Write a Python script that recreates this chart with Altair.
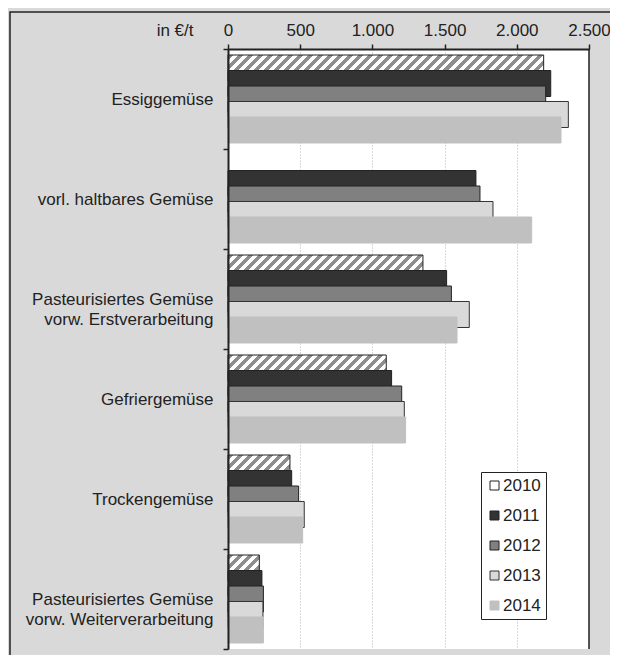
import altair as alt
import pandas as pd

categories = [
    "Essiggemüse",
    "vorl. haltbares Gemüse",
    "Pasteurisiertes Gemüse|vorw. Erstverarbeitung",
    "Gefriergemüse",
    "Trockengemüse",
    "Pasteurisiertes Gemüse|vorw. Weiterverarbeitung",
]
years = ["2010", "2011", "2012", "2013", "2014"]
v2010 = [2186, None, 1350, 1096, 429, 217]
v2011 = [2235, 1717, 1514, 1133, 441, 235]
v2012 = [2200, 1745, 1547, 1203, 489, 245]
v2013 = [2357, 1835, 1671, 1221, 528, 242]
v2014 = [2306, 2103, 1586, 1230, 517, 245]
x_ticks = [0, 500, 1000, 1500, 2000, 2500]

series = {"2010": v2010, "2011": v2011, "2012": v2012, "2013": v2013, "2014": v2014}
rows = []
for c_i, cat in enumerate(categories):
    for y in years:
        v = series[y][c_i]
        if v is not None:
            rows.append({"cat": cat, "year": y, "value": v})
df = pd.DataFrame(rows)

W_PLOT = 361
H_PLOT = 600
BAR = 26
DARK = "#222222"

fills = ["#ffffff", "#333333", "#808080", "#d9d9d9", "#c0c0c0"]
strokes = [DARK, DARK, DARK, "#333333", "#c0c0c0"]

legend = alt.Legend(
    orient="none", legendX=253, legendY=423, title=None,
    symbolType="square", symbolSize=81, symbolStrokeWidth=1,
    labelFontSize=17, labelColor=DARK, labelOffset=0,
    fillColor="white", strokeColor=DARK, padding=5, rowPadding=12,
)

x_enc = alt.X(
    "value:Q", stack=None,
    scale=alt.Scale(domain=[0, x_ticks[-1]], nice=False),
    axis=alt.Axis(
        orient="top", values=x_ticks,
        labelExpr="replace(format(datum.value, ','), ',', '.')",
        labelFontSize=17, labelColor=DARK, labelPadding=5, labelFlush=False,
        tickSize=5, tickColor=DARK, tickWidth=1.5,
        domainColor=DARK, domainWidth=2,
        grid=True, gridColor="#b4b4b4", gridDash=[1, 2], gridWidth=1,
        title="in €/t", titleX=-35, titleY=-14, titleAlign="right",
        titleBaseline="alphabetic", titleFontSize=17, titleFontWeight="normal",
        titleColor=DARK, zindex=0,
    ),
)
y_enc = alt.Y(
    "cat:N", sort=categories,
    scale=alt.Scale(domain=categories, paddingInner=0, paddingOuter=0),
    axis=alt.Axis(
        title=None, labelExpr="split(datum.label, '|')",
        labelFontSize=17, labelLineHeight=20, labelColor=DARK, labelPadding=10,
        labelLimit=300, tickBand="extent", tickSize=5, tickColor=DARK,
        tickWidth=1.5, domainColor=DARK, domainWidth=2, grid=False, zindex=1,
    ),
)
yoff_enc = alt.YOffset(
    "year:N", sort=years,
    scale=alt.Scale(domain=years, paddingInner=0, paddingOuter=0.726),
)


def hatch(value, period=10.0):
    w = value * W_PLOT / x_ticks[-1]
    h = float(BAR)
    denom = w * w + h * h
    stops = []
    c = 0.0
    total = w + h
    while c < total:
        for a, b, col in [(c, c + period / 2, "#8e8e8e"), (c + period / 2, c + period, "#ffffff")]:
            o1 = min(a * h / denom, 1.0)
            o2 = min(b * h / denom, 1.0)
            stops.append({"offset": round(o1, 6), "color": col})
            stops.append({"offset": round(o2, 6), "color": col})
        c += period
    return {"gradient": "linear", "x1": 0, "y1": 0, "x2": w / h, "y2": 1, "stops": stops}


frame = alt.Chart(pd.DataFrame({"a": [0]})).mark_rect(
    filled=False, stroke=DARK, strokeWidth=1.5
).encode(
    x=alt.value(-218), x2=alt.value(W_PLOT + 60),
    y=alt.value(-37), y2=alt.value(H_PLOT + 60),
)

layers = [frame]
for cat, v in zip(categories, v2010):
    if v is None:
        continue
    layers.append(
        alt.Chart(df)
        .transform_filter((alt.datum.cat == cat) & (alt.datum.year == "2010"))
        .mark_bar(size=BAR, fill=hatch(v), stroke=DARK, strokeWidth=1)
        .encode(x=x_enc, y=y_enc, yOffset=yoff_enc)
    )

main = (
    alt.Chart(df)
    .transform_filter(alt.datum.year != "2010")
    .mark_bar(size=BAR, strokeWidth=1)
    .encode(
        x=x_enc, y=y_enc, yOffset=yoff_enc,
        fill=alt.Fill("year:N", scale=alt.Scale(domain=years, range=fills), legend=legend),
        stroke=alt.Stroke("year:N", scale=alt.Scale(domain=years, range=strokes), legend=legend),
    )
)
layers.append(main)

right_rule = alt.Chart(pd.DataFrame({"value": [x_ticks[-1]]})).mark_rule(
    color=DARK, strokeWidth=1.5
).encode(x=alt.X("value:Q"))
layers.append(right_rule)

chart = (
    alt.layer(*layers)
    .properties(
        width=W_PLOT, height=H_PLOT, autosize="none",
        padding={"left": 220, "top": 41, "right": 21, "bottom": 6},
        background="#d9d9d9",
    )
    .configure(font="Liberation Sans")
    .configure_view(fill="white", stroke=None)
)

chart.save("out.html", embed_options={"renderer": "svg", "actions": False})
